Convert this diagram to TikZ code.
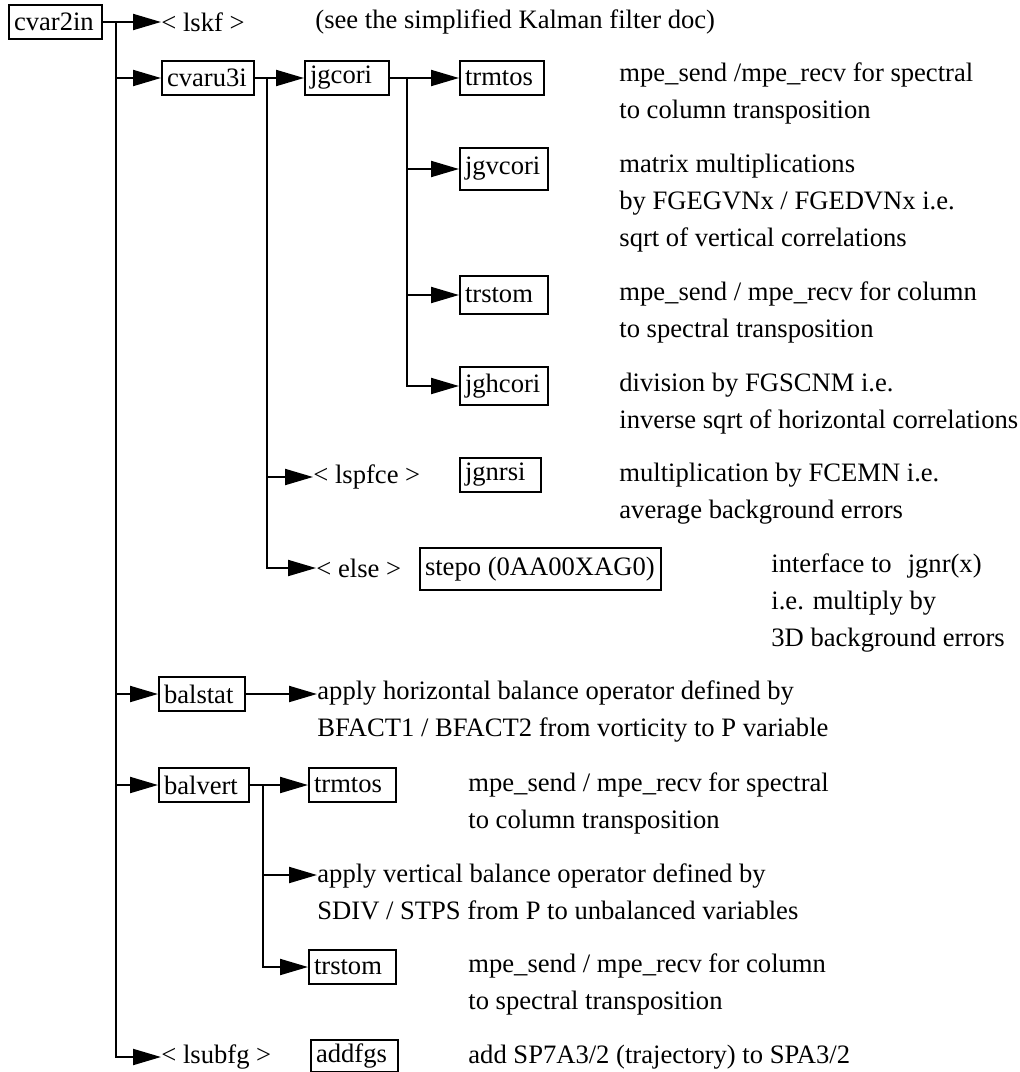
\documentclass[tikz,border=0pt]{standalone}
\usepackage{fontspec}
\setmainfont{Liberation Serif}
\usetikzlibrary{arrows.meta}
\newcommand{\calltxt}[2]{\makebox[#1][l]{#2}}
\tikzset{
  callbox/.style={draw,line width=1pt,anchor=west,inner xsep=2.5pt,inner ysep=0pt,minimum height=17pt},
  calltext/.style={anchor=west,inner sep=0pt},
  calldesc/.style={anchor=base west,inner sep=0pt,align=left},
  callarr/.style={-{Triangle[length=14pt,width=8pt]},line width=1pt}
}
\begin{document}
\begin{tikzpicture}[x=0.5pt,y=-0.5pt,every node/.style={font=\fontsize{13.3}{18.5}\selectfont}]
  \useasboundingbox (0,0) rectangle (1020,1072);
  % bus lines
  \coordinate (trunk) at (116,22);
  \coordinate (cvbus) at (267,78);
  \coordinate (jgbus) at (407,78);
  \coordinate (bvbus) at (263,785);

  % top level
  \node[callbox] (cvarin) at (8,22) {\calltxt{41.5pt}{cvar2in}};
  \node[calltext] (lskf) at (161,22) {< lskf >};
  \node[calltext] (kalman) at (315,22) {(see the simplified Kalman filter doc)};
  \node[callbox] (cvaruthreei) at (161,78) {\calltxt{41pt}{cvaru3i}};
  \node[callbox] (balstat) at (158,694) {\calltxt{38pt}{balstat}};
  \node[callbox] (balvert) at (158,785) {\calltxt{40pt}{balvert}};
  \node[calltext] (lsubfg) at (161,1057) {< lsubfg >};
  \node[callbox,minimum height=16pt] (addfgs) at (310,1056) {\calltxt{38.5pt}{addfgs}};
  \node[calltext] (addfgsdesc) at (468,1057) {add SP7A3/2 (trajectory) to SPA3/2};

  % under cvaru3i
  \node[callbox] (jgcori) at (304,78) {\calltxt{37pt}{jgcori}};
  \node[calltext] (lspfce) at (313,477) {< lspfce >};
  \node[callbox] (jgnrsi) at (459,475) {\calltxt{35.5pt}{jgnrsi}};
  \node[calltext] (elsetxt) at (316,568) {< else >};
  \node[callbox,minimum height=21pt] (stepo) at (419,569) {\calltxt{115.5pt}{stepo (0AA00XAG0)}};

  % under jgcori
  \node[callbox] (trmtos) at (459,78) {\calltxt{37pt}{trmtos}};
  \node[callbox,minimum height=21pt] (jgvcori) at (459,169) {\calltxt{39pt}{jgvcori}};
  \node[callbox,minimum height=19pt] (trstom) at (459,295) {\calltxt{39pt}{trstom}};
  \node[callbox,minimum height=19pt] (jghcori) at (459,386) {\calltxt{39pt}{jghcori}};

  % under balvert
  \node[callbox] (trmtostwo) at (308,785) {\calltxt{38.5pt}{trmtos}};
  \node[callbox] (trstomtwo) at (308,967) {\calltxt{38.5pt}{trstom}};

  % comments on the right (base = last line)
  \node[calldesc] (trmtosdesc) at (619,118) {mpe\_send /mpe\_recv for spectral\\to column transposition};
  \node[calldesc] (jgvcoridesc) at (619,246) {matrix multiplications\\by FGEGVNx / FGEDVNx i.e.\\sqrt of vertical correlations};
  \node[calldesc] (trstomdesc) at (619,337) {mpe\_send / mpe\_recv for column\\to spectral transposition};
  \node[calldesc] (jghcoridesc) at (619,428) {division by FGSCNM i.e.\\inverse sqrt of horizontal correlations};
  \node[calldesc] (jgnrsidesc) at (619,518) {multiplication by FCEMN i.e.\\average background errors};
  \node[calldesc] (stepodesc) at (771,646) {interface to\hspace{8pt}jgnr(x)\\i.e. multiply by\\3D background errors};
  \node[calldesc] (horbal) at (317,736) {apply horizontal balance operator defined by\\BFACT1 / BFACT2 from vorticity to P variable};
  \node[calldesc] (trmtostwodesc) at (468,828) {mpe\_send / mpe\_recv for spectral\\to column transposition};
  \node[calldesc] (vertbal) at (317,919) {apply vertical balance operator defined by\\SDIV / STPS from P to unbalanced variables};
  \node[calldesc] (trstomtwodesc) at (468,1009) {mpe\_send / mpe\_recv for column\\to spectral transposition};

  % connectors
  \draw[callarr] (cvarin) -- (lskf);
  \draw[callarr] (trunk) |- (lsubfg);
  \draw[callarr] (trunk |- cvaruthreei) -- (cvaruthreei);
  \draw[callarr] (trunk |- balstat) -- (balstat);
  \draw[callarr] (trunk |- balvert) -- (balvert);

  \draw[callarr] (cvaruthreei) -- (jgcori);
  \draw[callarr] (cvbus) |- (elsetxt);
  \draw[callarr] (cvbus |- lspfce) -- (lspfce);

  \draw[callarr] (jgcori) -- (trmtos);
  \draw[callarr] (jgbus) |- (jghcori);
  \draw[callarr] (jgbus |- jgvcori) -- (jgvcori);
  \draw[callarr] (jgbus |- trstom) -- (trstom);

  \draw[callarr] (balstat) -- (balstat -| horbal.west);

  \coordinate (vertbalpt) at (263,875);
  \draw[callarr] (balvert) -- (trmtostwo);
  \draw[callarr] (bvbus) |- (trstomtwo);
  \draw[callarr] (vertbalpt) -- (vertbalpt -| vertbal.west);
\end{tikzpicture}
\end{document}
